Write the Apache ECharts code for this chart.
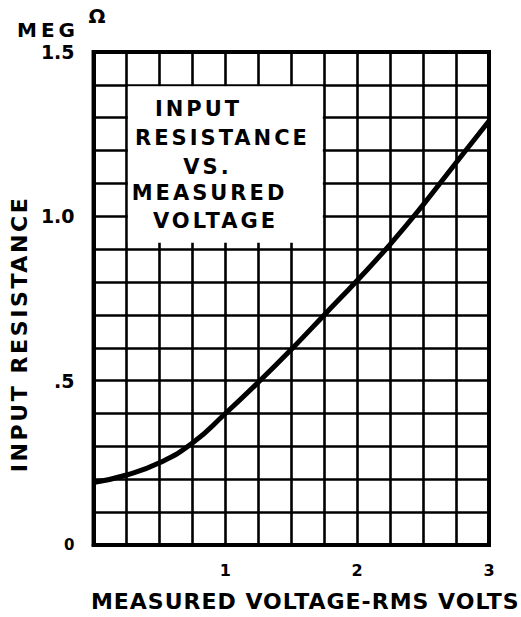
<!DOCTYPE html>
<html>
<head>
<meta charset="utf-8">
<script src="https://cdn.jsdelivr.net/npm/echarts@6/dist/echarts.min.js"></script>
<style>
  html, body { margin: 0; padding: 0; background: #fff; }
  #chart { width: 521px; height: 617px; }
</style>
</head>
<body>
<div id="chart"></div>
<script>
// Input resistance (megohms) against measured RMS voltage
const voltage    = [0, 0.25, 0.5, 0.75, 1.0, 1.25, 1.5, 1.75, 2.0, 2.25, 2.5, 2.75, 3.0];
const resistance = [0.19, 0.213, 0.25, 0.31, 0.40, 0.495, 0.595, 0.70, 0.805, 0.915, 1.035, 1.163, 1.29];

const xLabelValues = [1, 2, 3];
const xLabelTexts  = ['1', '2', '3'];
const yLabelValues = [0, 0.5, 1.0, 1.5];
const yLabelTexts  = ['0', '.5', '1.0', '1.5'];

const xName = 'MEASURED VOLTAGE-RMS VOLTS';
const yName = 'INPUT RESISTANCE';
const unitText = 'MEG';
const unitSymbol = 'Ω';
const boxLines = ['INPUT', 'RESISTANCE', 'VS.', 'MEASURED', 'VOLTAGE'];
const boxCorners = [[0.25, 1.4], [1.75, 0.92]];

const FONT = '"DejaVu Sans", "Open Sans", sans-serif';

function lookup(values, texts, v) {
  for (let i = 0; i < values.length; i++) {
    if (Math.abs(values[i] - v) < 1e-6) return texts[i];
  }
  return '';
}

const chart = echarts.init(document.getElementById('chart'), null, { renderer: 'svg' });

const option = {
  animation: false,
  backgroundColor: '#fff',
  grid: {
    left: 91, right: 32, top: 52, bottom: 71,
    show: true, borderColor: '#000', borderWidth: 4, backgroundColor: 'transparent'
  },
  xAxis: {
    type: 'value', min: 0, max: 3, interval: 0.25,
    name: xName, nameLocation: 'middle', nameGap: 45,
    nameTextStyle: { fontFamily: FONT, fontWeight: 'bold', fontSize: 22, color: '#000', padding: [0, 0, 0, 28] },
    axisLine: { show: true, lineStyle: { color: '#000', width: 4 } },
    axisTick: { show: false },
    axisLabel: {
      margin: 17, fontFamily: FONT, fontWeight: 'bold', fontSize: 16, color: '#000',
      formatter: v => lookup(xLabelValues, xLabelTexts, v)
    },
    splitLine: { show: true, lineStyle: { color: '#000', width: 2.6 } }
  },
  yAxis: {
    type: 'value', min: 0, max: 1.5, interval: 0.1,
    name: yName, nameLocation: 'middle', nameRotate: 90, nameGap: 60,
    nameTextStyle: { fontFamily: FONT, fontWeight: 'bold', fontSize: 22, color: '#000', padding: [0, 71, 0, 0] },
    axisLine: { show: true, lineStyle: { color: '#000', width: 4 } },
    axisTick: { show: false },
    axisLabel: {
      margin: 19, fontFamily: FONT, fontWeight: 'bold', fontSize: 19, color: '#000',
      formatter: v => {
        const t = lookup(yLabelValues, yLabelTexts, v);
        return t === '0' ? '{s|0}' : t;
      },
      rich: { s: { fontFamily: FONT, fontWeight: 'bold', fontSize: 15, color: '#000' } }
    },
    splitLine: { show: true, lineStyle: { color: '#000', width: 2.6 } }
  },
  series: [{
    type: 'line',
    data: voltage.map((v, i) => [v, resistance[i]]),
    smooth: 0.5,
    symbol: 'none',
    clip: false,
    lineStyle: { color: '#000', width: 5 },
    z: 3
  }]
};

chart.setOption(option);

// White legend panel over the upper-left part of the grid
const tl = chart.convertToPixel({ gridIndex: 0 }, boxCorners[0]);
const br = chart.convertToPixel({ gridIndex: 0 }, boxCorners[1]);
const inset = 1.4;
const boxX = tl[0] + inset, boxY = tl[1] + inset;
const boxW = br[0] - tl[0] - 2 * inset, boxH = br[1] - tl[1] - inset;
const lineCenters = [[72, 24], [96, 53.5], [81, 82.5], [83, 108], [89, 136]];

const graphics = [{
  type: 'rect', z: 10,
  shape: { x: boxX, y: boxY, width: boxW, height: boxH },
  style: { fill: '#fff' }
}];
boxLines.forEach((txt, i) => {
  graphics.push({
    type: 'text', z: 11,
    x: tl[0] + lineCenters[i][0], y: tl[1] + lineCenters[i][1],
    style: { text: txt, align: 'center', verticalAlign: 'middle',
             font: 'bold 21px ' + FONT, fill: '#000' }
  });
});
graphics.push({
  type: 'text', z: 11, x: 17, y: 30,
  style: { text: unitText, align: 'left', verticalAlign: 'middle', font: 'bold 20px ' + FONT, fill: '#000' }
});
graphics.push({
  type: 'text', z: 11, x: 97, y: 16,
  style: { text: unitSymbol, align: 'center', verticalAlign: 'middle', font: 'bold 20px ' + FONT, fill: '#000' }
});
chart.setOption({ graphic: graphics });

// Hand-lettered look: widen the spacing of the lettering
function letterSpacingFor(s) {
  if (boxLines.includes(s)) return 3;
  if (s === yName) return 2.6;
  if (s === xName) return 1;
  if (s === unitText) return 4;
  return 0;
}
function applySpacing() {
  document.querySelectorAll('#chart svg text').forEach(t => {
    const sp = letterSpacingFor(t.textContent);
    if (sp) t.style.letterSpacing = sp + 'px';
  });
}
applySpacing();
chart.on('finished', applySpacing);
</script>
</body>
</html>
